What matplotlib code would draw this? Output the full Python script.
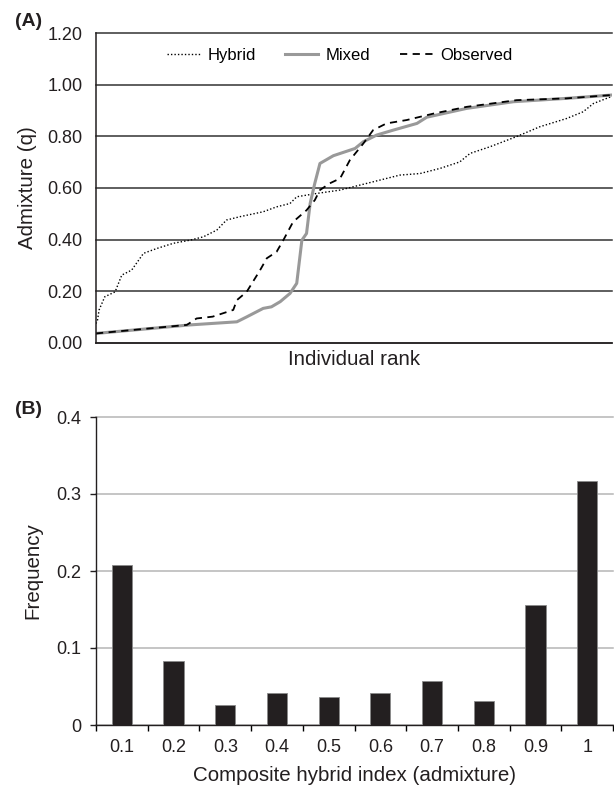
import matplotlib
matplotlib.use("Agg")
import matplotlib.pyplot as plt

plt.rcParams['font.family'] = ['Liberation Sans', 'DejaVu Sans']

# panel A: admixture curves (rank as fraction of individuals, q value)
hybrid_rank = [0.0, 0.003, 0.006, 0.017, 0.037, 0.050, 0.069, 0.092, 0.118, 0.150,
               0.182, 0.208, 0.234, 0.253, 0.279, 0.324, 0.350, 0.376, 0.389, 0.428,
               0.473, 0.499, 0.537, 0.589, 0.628, 0.667, 0.705, 0.725, 0.764, 0.815,
               0.860, 0.912, 0.944, 0.964, 1.0]
hybrid_q = [0.075, 0.089, 0.128, 0.179, 0.198, 0.263, 0.282, 0.347, 0.366, 0.386,
            0.398, 0.411, 0.437, 0.476, 0.489, 0.508, 0.527, 0.540, 0.566, 0.579,
            0.592, 0.605, 0.624, 0.650, 0.656, 0.676, 0.701, 0.734, 0.760, 0.799,
            0.837, 0.869, 0.895, 0.927, 0.955]

mixed_rank = [0.0, 0.182, 0.273, 0.292, 0.324, 0.340, 0.357, 0.376, 0.389, 0.399,
              0.408, 0.415, 0.424, 0.434, 0.460, 0.502, 0.518, 0.544, 0.576, 0.622,
              0.641, 0.718, 0.809, 0.912, 1.0]
mixed_q = [0.037, 0.070, 0.082, 0.101, 0.134, 0.140, 0.160, 0.192, 0.231, 0.398,
           0.424, 0.540, 0.618, 0.695, 0.725, 0.753, 0.779, 0.805, 0.824, 0.850,
           0.874, 0.908, 0.934, 0.947, 0.960]

observed_rank = [0.0, 0.176, 0.195, 0.226, 0.266, 0.273, 0.292, 0.318, 0.331, 0.350,
                 0.363, 0.382, 0.408, 0.424, 0.434, 0.453, 0.473, 0.492, 0.518, 0.537,
                 0.563, 0.602, 0.654, 0.718, 0.815, 0.912, 1.0]
observed_q = [0.037, 0.070, 0.095, 0.102, 0.128, 0.166, 0.198, 0.282, 0.328, 0.353,
              0.398, 0.469, 0.514, 0.553, 0.592, 0.618, 0.637, 0.708, 0.772, 0.824,
              0.850, 0.863, 0.888, 0.914, 0.940, 0.947, 0.960]

q_ticks = [0.0, 0.2, 0.4, 0.6, 0.8, 1.0, 1.2]

# panel B: frequency histogram
categories = ['0.1', '0.2', '0.3', '0.4', '0.5', '0.6', '0.7', '0.8', '0.9', '1']
frequency = [0.208, 0.083, 0.026, 0.041, 0.036, 0.041, 0.057, 0.031, 0.156, 0.317]
freq_ticks = [0, 0.1, 0.2, 0.3, 0.4]
freq_labels = ['0', '0.1', '0.2', '0.3', '0.4']

tick_fs = 13
label_fs = 14.8
ink = '#231f20'

fig = plt.figure(figsize=(6.14, 7.88), dpi=100)

# ---- (A)
ax1 = fig.add_axes([96 / 614, 1 - 343 / 788, 516 / 614, 310 / 788])
ax1.plot(hybrid_rank, hybrid_q, color='black', lw=1.0, ls=(0, (1, 1.5)), label='Hybrid')
ax1.plot(mixed_rank, mixed_q, color='#999999', lw=2.2, label='Mixed')
ax1.plot(observed_rank, observed_q, color='black', lw=1.3, ls=(0, (4, 3)), label='Observed')
ax1.set_xlim(0, 1)
ax1.set_ylim(0, 1.2)
ax1.set_yticks(q_ticks)
ax1.set_yticklabels(['%.2f' % v for v in q_ticks])
ax1.set_xticks([])
ax1.tick_params(axis='y', length=0, pad=9.5, labelsize=tick_fs, colors=ink)
ax1.yaxis.grid(True, color='#333333', lw=1.1)
for gl in ax1.get_ygridlines():
    gl.set_clip_on(False)
ax1.set_axisbelow(True)
for s in ['top', 'right']:
    ax1.spines[s].set_visible(False)
for s in ['left', 'bottom']:
    ax1.spines[s].set_color(ink)
    ax1.spines[s].set_linewidth(1.1)
ax1.set_ylabel('Admixture (q)', fontsize=label_fs, color=ink)
ax1.yaxis.set_label_coords(-0.114, 0.5)
ax1.set_xlabel('Individual rank', fontsize=label_fs, color=ink, labelpad=5)
ax1.legend(loc='center', bbox_to_anchor=(0.472, 0.929), ncol=3, frameon=False,
           fontsize=12, handlelength=2.0, columnspacing=1.75, handletextpad=0.45)
fig.text(15 / 614, 1 - 21 / 788, '(A)', fontsize=14, fontweight='bold', va='center', color=ink)

# ---- (B)
ax2 = fig.add_axes([96 / 614, 1 - 725 / 788, 517 / 614, 308 / 788])
pos = list(range(len(categories)))
ax2.bar(pos, frequency, width=0.39, color=ink, edgecolor='#8a8a8a', lw=0.6, zorder=3)
ax2.set_xlim(-0.5, len(categories) - 0.5)
ax2.set_ylim(0, 0.4)
ax2.set_yticks(freq_ticks)
ax2.set_yticklabels(freq_labels)
ax2.set_xticks([p - 0.5 for p in pos] + [len(categories) - 0.5])
ax2.set_xticklabels([])
ax2.set_xticks(pos, minor=True)
ax2.set_xticklabels(categories, minor=True)
ax2.tick_params(axis='x', which='major', length=4, width=1, direction='out')
ax2.tick_params(axis='x', which='minor', length=0, pad=10, labelsize=tick_fs, colors=ink)
ax2.tick_params(axis='y', length=4, width=1, pad=6.5, labelsize=tick_fs, colors=ink)
ax2.yaxis.grid(True, color='#b5b5b5', lw=1.1)
for gl in ax2.get_ygridlines():
    gl.set_clip_on(False)
for s in ['top', 'right']:
    ax2.spines[s].set_visible(False)
for s in ['left', 'bottom']:
    ax2.spines[s].set_color(ink)
    ax2.spines[s].set_linewidth(1.0)
ax2.set_ylabel('Frequency', fontsize=label_fs, color=ink)
ax2.yaxis.set_label_coords(-0.103, 0.5)
ax2.set_xlabel('Composite hybrid index (admixture)', fontsize=label_fs, color=ink, labelpad=7)
fig.text(15 / 614, 1 - 409 / 788, '(B)', fontsize=14, fontweight='bold', va='center', color=ink)

fig.savefig('out.png', dpi=100)
